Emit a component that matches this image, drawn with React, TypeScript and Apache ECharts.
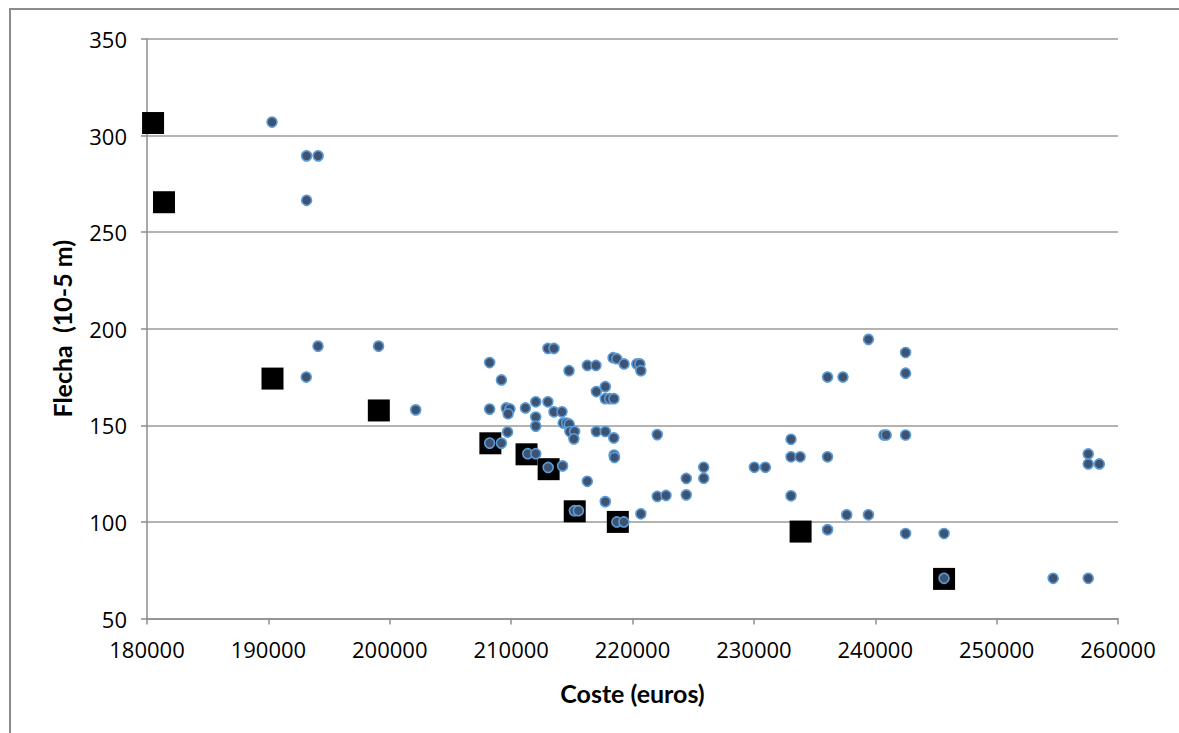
import React, { useEffect, useRef } from "react";
import * as echarts from "echarts";

const xTicks = [180000, 190000, 200000, 210000, 220000, 230000, 240000, 250000, 260000];
const yTicks = [50, 100, 150, 200, 250, 300, 350];

// Pareto-front designs (black squares)
const paretoCost = [180500, 181400, 190340, 199100, 208290, 211270, 213090, 215240, 218790, 233850, 245670];
const paretoFlecha = [306.5, 265.5, 174.2, 157.7, 140.7, 135, 127.3, 105.5, 100, 95, 70.5];

// All evaluated designs (blue dots)
const allCost = [
  190300, 193150, 194100, 193150, 194090, 199080, 193120, 202140, 208230, 209200,
  213030, 213530, 214770, 216280, 216990, 218400, 218700, 219310, 220360, 220610,
  220690, 208230, 209600, 209900, 209750, 211180, 212030, 213030, 212030, 212030,
  213530, 214190, 217020, 217760, 217760, 218120, 218470, 214290, 214570, 214790,
  214840, 215230, 215170, 217020, 217760, 218460, 222040, 209710, 208230, 209200,
  211370, 212030, 213050, 214240, 218480, 218520, 216280, 215210, 215540, 217760,
  218710, 219290, 220690, 222040, 222760, 224430, 224430, 239440, 242500, 242500,
  236070, 237340, 233060, 233060, 233810, 236070, 240710, 240900, 242500, 225870,
  225870, 230040, 230950, 233060, 237650, 239440, 236070, 257550, 257550, 258460,
  242500, 245670, 245670, 254660, 257550,
];
const allFlecha = [
  307, 289.5, 289.5, 266.5, 191, 191, 175, 158, 182.5, 173.5,
  189.8, 189.8, 178.3, 181, 181, 185, 184.5, 181.8, 181.8, 181.8,
  178.3, 158.4, 159, 158.5, 156, 159, 162.2, 162.2, 154.3, 149.6,
  157, 157, 167.5, 170, 163.8, 163.8, 163.8, 151.2, 151.2, 150.6,
  146.8, 146.8, 143, 146.8, 146.8, 143.5, 145.2, 146.5, 140.8, 140.8,
  135.3, 135.3, 128.2, 129, 134.6, 133.4, 121, 105.8, 105.8, 110.5,
  100, 100, 104.2, 113.2, 113.7, 122.5, 114, 194.5, 187.7, 177,
  175, 175, 142.8, 133.7, 133.7, 133.7, 145, 145, 145, 128.3,
  122.6, 128.3, 128.3, 113.5, 103.7, 103.7, 96, 135.2, 130, 130,
  94, 94, 70.8, 70.8, 70.8,
];

const xTitle = "Coste (euros)";
const yTitle = "Flecha  (10-5 m)";

export default function App() {
  const ref = useRef<HTMLDivElement>(null);
  useEffect(() => {
    if (!ref.current) return;
    const chart = echarts.init(ref.current, undefined, { renderer: "svg" });
    const tickFont = { fontFamily: "Open Sans", fontSize: 22, color: "#000" };
    const titleFont = { fontFamily: "Lato", fontWeight: "bold", fontSize: 25, color: "#000" };
    chart.setOption({
      animation: false,
      backgroundColor: "#fff",
      graphic: [
        {
          type: "polyline",
          shape: { points: [[10, 760], [10, 9], [1190, 9]] },
          style: { stroke: "#8c8c8c", lineWidth: 2, fill: "none" },
          silent: true,
        },
      ],
      grid: { left: 147, right: 61, top: 39, bottom: 114.5, containLabel: false },
      xAxis: {
        type: "value",
        min: xTicks[0],
        max: xTicks[xTicks.length - 1],
        interval: 10000,
        name: xTitle,
        nameLocation: "middle",
        nameGap: 62,
        nameTextStyle: titleFont,
        axisLine: { show: true, lineStyle: { color: "#8c8c8c", width: 1.5 } },
        axisTick: { show: true, length: 6, lineStyle: { color: "#8c8c8c", width: 1.5 } },
        axisLabel: { ...tickFont, margin: 19, formatter: (v: number) => String(v) },
        splitLine: { show: false },
      },
      yAxis: {
        type: "value",
        min: yTicks[0],
        max: yTicks[yTicks.length - 1],
        interval: 50,
        name: yTitle,
        nameLocation: "middle",
        nameGap: 73,
        nameRotate: 90,
        nameTextStyle: titleFont,
        axisLine: { show: true, lineStyle: { color: "#8c8c8c", width: 1.5 } },
        axisTick: { show: true, length: 6, lineStyle: { color: "#8c8c8c", width: 1.5 } },
        axisLabel: { ...tickFont, margin: 20, formatter: (v: number) => String(v) },
        splitLine: { show: true, lineStyle: { color: "#9a9a9a", width: 1.5 } },
      },
      series: [
        {
          name: "Pareto",
          type: "scatter",
          symbol: "rect",
          symbolSize: 22,
          clip: false,
          itemStyle: { color: "#000", opacity: 1 },
          data: paretoCost.map((c, i) => [c, paretoFlecha[i]]),
          z: 2,
        },
        {
          name: "Soluciones",
          type: "scatter",
          symbol: "circle",
          symbolSize: 10,
          clip: false,
          itemStyle: { color: "#3e5372", borderColor: "#5b9bd5", borderWidth: 1.6, opacity: 1 },
          data: allCost.map((c, i) => [c, allFlecha[i]]),
          z: 3,
        },
      ],
    });
    return () => chart.dispose();
  }, []);
  return <div ref={ref} style={{ width: 1179, height: 733, position: "absolute", left: 0, top: 0 }} />;
}
